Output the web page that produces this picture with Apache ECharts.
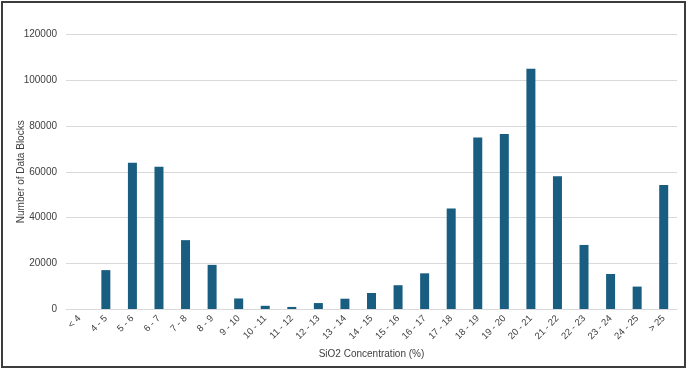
<!DOCTYPE html>
<html>
<head>
<meta charset="utf-8">
<script src="https://cdn.jsdelivr.net/npm/echarts@6/dist/echarts.min.js"></script>
<style>
html,body{margin:0;padding:0;background:#fff;}
#chart{width:688px;height:370px;}
</style>
</head>
<body>
<div id="chart"></div>
<script>
const categories = ['< 4','4 - 5','5 - 6','6 - 7','7 - 8','8 - 9','9 - 10','10 - 11','11 - 12','12 - 13','13 - 14','14 - 15','15 - 16','16 - 17','17 - 18','18 - 19','19 - 20','20 - 21','21 - 22','22 - 23','23 - 24','24 - 25','> 25'];
const blockCounts = [0,17000,63900,62200,30100,19300,4600,1400,900,2600,4500,7000,10400,15600,43900,75000,76500,105000,58000,28000,15300,9800,54200];
const yTicks = [0,20000,40000,60000,80000,100000,120000];
const xAxisTitle = 'SiO2 Concentration (%)';
const yAxisTitle = 'Number of Data Blocks';

const chart = echarts.init(document.getElementById('chart'), null, {renderer:'canvas'});
const font = 'Liberation Sans';
chart.setOption({
  animation:false,
  backgroundColor:'#ffffff',
  graphic:[{
    type:'rect', shape:{x:2,y:2,width:683,height:365},
    style:{fill:'none',stroke:'#3c3c3c',lineWidth:2}, silent:true, z:100
  }],
  grid:{left:66,right:11,top:34.5,bottom:61,containLabel:false,outerBoundsMode:'none'},
  xAxis:{
    type:'category',
    data:categories,
    name:xAxisTitle,
    nameLocation:'middle',
    nameGap:40,
    nameMoveOverlap:false,
    nameTextStyle:{fontFamily:font,fontSize:10,color:'#404040'},
    axisLine:{show:true,lineStyle:{color:'#d9d9d9',width:1}},
    axisTick:{show:false},
    axisLabel:{rotate:45,fontFamily:font,fontSize:9.5,color:'#404040',margin:8,interval:0}
  },
  yAxis:{
    type:'value',
    min:yTicks[0],
    max:yTicks[yTicks.length-1],
    interval:yTicks[1]-yTicks[0],
    name:yAxisTitle,
    nameLocation:'middle',
    nameGap:40,
    nameMoveOverlap:false,
    nameTextStyle:{fontFamily:font,fontSize:10,color:'#404040'},
    axisLine:{show:false},
    axisTick:{show:false},
    splitLine:{show:true,lineStyle:{color:'#d9d9d9',width:1}},
    axisLabel:{fontFamily:font,fontSize:10,color:'#404040',margin:9,formatter:function(v){return String(v);}}
  },
  series:[{
    type:'bar',
    data:blockCounts,
    barWidth:9,
    itemStyle:{color:'#195e80'}
  }]
});
</script>
</body>
</html>
